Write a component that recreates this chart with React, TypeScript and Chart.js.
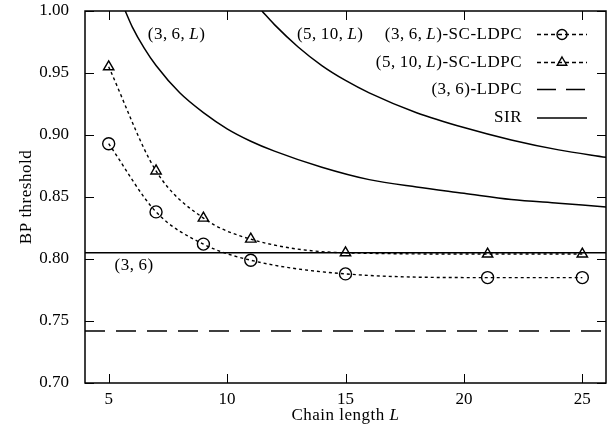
import React, { useEffect, useRef } from "react";
import { Chart, registerables } from "chart.js";

Chart.register(...registerables);

// ---- data ----
const chainLengths = [5, 7, 9, 11, 15, 21, 25];
const sc36Threshold = [0.893, 0.838, 0.812, 0.799, 0.788, 0.785, 0.785];
const sc510Threshold = [0.955, 0.871, 0.833, 0.816, 0.805, 0.804, 0.804];

const sir36LChain = [5.7, 6, 6.5, 7, 8, 9, 10, 11, 12, 14, 16, 18, 20, 22, 24, 26];
const sir36LValue = [1.0, 0.987, 0.97, 0.956, 0.934, 0.918, 0.905, 0.895, 0.887, 0.874, 0.864, 0.858, 0.853, 0.848, 0.845, 0.842];
const sir510LChain = [11.47, 12, 13, 14, 15, 16, 18, 20, 22, 24, 26];
const sir510LValue = [1.0, 0.989, 0.971, 0.956, 0.944, 0.934, 0.918, 0.906, 0.896, 0.888, 0.882];

const flatSpan = [4, 26];
const sir36Value = 0.805;
const ldpc36Value = 0.742;

const xTicks = [5, 10, 15, 20, 25];
const yTicks = [0.7, 0.75, 0.8, 0.85, 0.9, 0.95, 1.0];

type Part = [string, boolean];
const T = "\u2009";
const curveLabels: { parts: Part[]; x: number; y: number }[] = [
  { parts: [["(3," + T + "6," + T, false], ["L", true], [")", false]], x: 6.65, y: 0.981 },
  { parts: [["(5," + T + "10," + T, false], ["L", true], [")", false]], x: 12.95, y: 0.981 },
  { parts: [["(3," + T + "6)", false]], x: 5.25, y: 0.795 },
];

const legendItems: { parts: Part[]; kind: string }[] = [
  { parts: [["(3," + T + "6," + T, false], ["L", true], [")-SC-LDPC", false]], kind: "circle" },
  { parts: [["(5," + T + "10," + T, false], ["L", true], [")-SC-LDPC", false]], kind: "triangle" },
  { parts: [["(3," + T + "6)-LDPC", false]], kind: "longdash" },
  { parts: [["SIR", false]], kind: "solid" },
];

const FAMILY = '"Liberation Serif", "Times New Roman", serif';
const FS = 17;

function drawRich(ctx: CanvasRenderingContext2D, parts: Part[], x: number, y: number, align: string) {
  let total = 0;
  const widths: number[] = [];
  for (const [t, it] of parts) {
    ctx.font = `${it ? "italic " : ""}${FS}px ${FAMILY}`;
    const w = ctx.measureText(t).width;
    widths.push(w);
    total += w;
  }
  let cx = align === "right" ? x - total : align === "center" ? x - total / 2 : x;
  ctx.textAlign = "left";
  parts.forEach(([t, it], i) => {
    ctx.font = `${it ? "italic " : ""}${FS}px ${FAMILY}`;
    ctx.fillText(t, cx, y);
    cx += widths[i];
  });
}

function markerPath(ctx: CanvasRenderingContext2D, kind: string, x: number, y: number, r: number) {
  ctx.beginPath();
  if (kind === "circle") {
    ctx.arc(x, y, r, 0, Math.PI * 2);
  } else {
    let rad = 0;
    ctx.moveTo(x + Math.sin(rad) * r, y - Math.cos(rad) * r);
    rad += (2 * Math.PI) / 3;
    ctx.lineTo(x + Math.sin(rad) * r, y - Math.cos(rad) * r);
    rad += (2 * Math.PI) / 3;
    ctx.lineTo(x + Math.sin(rad) * r, y - Math.cos(rad) * r);
    ctx.closePath();
  }
  ctx.stroke();
}

const decorPlugin = {
  id: "decor",
  afterDraw(chart: any) {
    const { ctx, chartArea } = chart;
    const { left, right, top, bottom } = chartArea;
    const xs = chart.scales.x;
    const ys = chart.scales.y;
    ctx.save();
    ctx.strokeStyle = "#000";
    ctx.fillStyle = "#000";
    // frame
    ctx.lineWidth = 1.5;
    ctx.setLineDash([]);
    ctx.strokeRect(left, top, right - left, bottom - top);
    // inward ticks
    ctx.lineWidth = 1;
    const tl = 9;
    ctx.beginPath();
    for (const v of xTicks) {
      const px = Math.round(xs.getPixelForValue(v)) + 0.5;
      ctx.moveTo(px, bottom);
      ctx.lineTo(px, bottom - tl);
      ctx.moveTo(px, top);
      ctx.lineTo(px, top + tl);
    }
    for (const v of yTicks) {
      const py = Math.round(ys.getPixelForValue(v)) + 0.5;
      ctx.moveTo(left, py);
      ctx.lineTo(left + tl, py);
      ctx.moveTo(right, py);
      ctx.lineTo(right - tl, py);
    }
    ctx.stroke();

    (ctx as any).letterSpacing = "0.5px";
    ctx.textBaseline = "middle";
    // curve labels
    for (const lab of curveLabels) {
      drawRich(ctx, lab.parts, xs.getPixelForValue(lab.x), ys.getPixelForValue(lab.y), "left");
    }
    // legend
    const rowsY = [23.5, 51.5, 78.5, 107];
    const textRight = right - 84;
    const s0 = right - 69;
    const s1 = right - 19;
    legendItems.forEach((item, i) => {
      const y = top + rowsY[i];
      drawRich(ctx, item.parts, textRight, y, "right");
      ctx.lineWidth = 1.4;
      if (item.kind === "circle" || item.kind === "triangle") {
        ctx.setLineDash([4, 3]);
      } else if (item.kind === "longdash") {
        ctx.setLineDash([19, 10]);
      } else {
        ctx.setLineDash([]);
      }
      ctx.beginPath();
      ctx.moveTo(s0, y);
      ctx.lineTo(s1, y);
      ctx.stroke();
      ctx.setLineDash([]);
      if (item.kind === "circle" || item.kind === "triangle") {
        markerPath(ctx, item.kind, (s0 + s1) / 2, y, item.kind === "circle" ? 5 : 5.5);
      }
    });
    // x title
    ctx.textBaseline = "alphabetic";
    drawRich(ctx, [["Chain length ", false], ["L", true]], (left + right) / 2, 420, "center");
    // y title
    ctx.save();
    ctx.translate(31, (top + bottom) / 2);
    ctx.rotate(-Math.PI / 2);
    drawRich(ctx, [["BP threshold", false]], 0, 0, "center");
    ctx.restore();
    (ctx as any).letterSpacing = "0px";
    ctx.restore();
  },
};

function zeroPad(s: any) {
  s.paddingTop = 0;
  s.paddingBottom = 0;
  s.paddingLeft = 0;
  s.paddingRight = 0;
}

export default function App() {
  const ref = useRef<HTMLCanvasElement>(null);
  useEffect(() => {
    const pts = (xsArr: number[], ysArr: number[]) => xsArr.map((x, i) => ({ x, y: ysArr[i] }));
    const font = { family: FAMILY, size: FS };
    const chart = new Chart(ref.current as HTMLCanvasElement, {
      type: "line",
      data: {
        datasets: [
          {
            label: "(3,6,L)-SC-LDPC",
            data: pts(chainLengths, sc36Threshold),
            borderColor: "#000",
            borderWidth: 1.4,
            borderDash: [3, 3],
            pointStyle: "circle",
            pointRadius: 6,
            pointBorderWidth: 1.4,
            pointBorderColor: "#000",
            pointBackgroundColor: "rgba(0,0,0,0)",
            cubicInterpolationMode: "monotone",
            fill: false,
          },
          {
            label: "(5,10,L)-SC-LDPC",
            data: pts(chainLengths, sc510Threshold),
            borderColor: "#000",
            borderWidth: 1.4,
            borderDash: [3, 3],
            pointStyle: "triangle",
            pointRadius: 6,
            pointBorderWidth: 1.4,
            pointBorderColor: "#000",
            pointBackgroundColor: "rgba(0,0,0,0)",
            cubicInterpolationMode: "monotone",
            fill: false,
          },
          {
            label: "SIR (3,6,L)",
            data: pts(sir36LChain, sir36LValue),
            borderColor: "#000",
            borderWidth: 1.5,
            pointRadius: 0,
            cubicInterpolationMode: "monotone",
            fill: false,
          },
          {
            label: "SIR (5,10,L)",
            data: pts(sir510LChain, sir510LValue),
            borderColor: "#000",
            borderWidth: 1.5,
            pointRadius: 0,
            cubicInterpolationMode: "monotone",
            fill: false,
          },
          {
            label: "SIR (3,6)",
            data: flatSpan.map((x) => ({ x, y: sir36Value })),
            borderColor: "#000",
            borderWidth: 1.5,
            pointRadius: 0,
            fill: false,
          },
          {
            label: "(3,6)-LDPC",
            data: flatSpan.map((x) => ({ x, y: ldpc36Value })),
            borderColor: "#000",
            borderWidth: 1.5,
            borderDash: [20, 11],
            pointRadius: 0,
            fill: false,
          },
        ],
      },
      options: {
        responsive: false,
        animation: false,
        events: [],
        layout: { autoPadding: false, padding: { top: 11, right: 10, left: 0, bottom: 0 } },
        plugins: { legend: { display: false }, tooltip: { enabled: false } },
        scales: {
          x: {
            type: "linear",
            min: 4,
            max: 26,
            afterBuildTicks: (s: any) => {
              s.ticks = xTicks.map((v) => ({ value: v }));
            },
            afterFit: (s: any) => {
              s.height = 53;
              zeroPad(s);
            },
            ticks: {
              font,
              color: "#000",
              padding: 6,
              maxRotation: 0,
              autoSkip: false,
              callback: (v: any) => String(v),
            },
            grid: { display: false, drawTicks: false },
            border: { display: false },
          },
          y: {
            type: "linear",
            min: 0.7,
            max: 1.0,
            afterBuildTicks: (s: any) => {
              s.ticks = yTicks.map((v) => ({ value: v }));
            },
            afterFit: (s: any) => {
              s.width = 85;
              zeroPad(s);
            },
            ticks: {
              font,
              color: "#000",
              padding: 16,
              autoSkip: false,
              callback: (v: any) => Number(v).toFixed(2),
            },
            grid: { display: false, drawTicks: false },
            border: { display: false },
          },
        },
      } as any,
      plugins: [decorPlugin],
    });
    return () => chart.destroy();
  }, []);
  return (
    <div style={{ width: 600, height: 420 }}>
      <canvas
        ref={ref}
        width={616}
        height={436}
        style={{ display: "block", position: "absolute", left: 0, top: 0 }}
      />
    </div>
  );
}
